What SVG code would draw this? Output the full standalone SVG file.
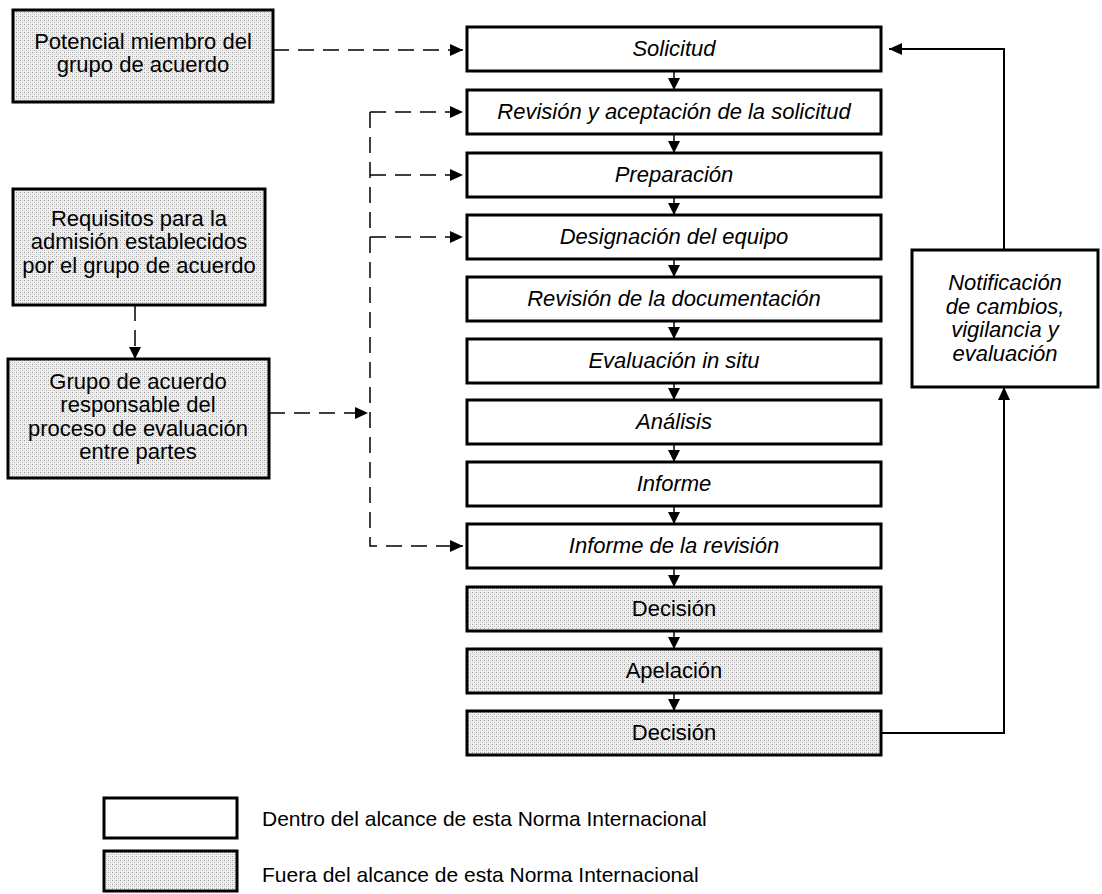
<svg xmlns="http://www.w3.org/2000/svg" width="1102" height="894" viewBox="0 0 1102 894">
<defs>
<style>
.box{fill:#fff;stroke:#000;stroke-width:3}
.gbox{fill:url(#dots);stroke:#000;stroke-width:3}
.t{font-family:"Liberation Sans",Arial,sans-serif;font-size:22px;fill:#000;text-anchor:middle}
.i{font-style:italic}
.lg{font-family:"Liberation Sans",Arial,sans-serif;font-size:21px;fill:#000}
.c{fill:none;stroke:#000;stroke-width:1.5}
.d{fill:none;stroke:#000;stroke-width:1.5;stroke-dasharray:16 9}
.s{fill:none;stroke:#000;stroke-width:2}
</style>
<pattern id="dots" width="4" height="4" patternUnits="userSpaceOnUse">
<rect width="4" height="4" fill="#f0f0f0"/>
<rect x="0" y="0" width="1" height="1" fill="#9c9c9c"/>
<rect x="2" y="2" width="1" height="1" fill="#bcbcbc"/>
<rect x="0" y="2" width="1" height="1" fill="#d4d4d4"/>
<rect x="2" y="0" width="1" height="1" fill="#d4d4d4"/>
</pattern>
<marker id="ah" viewBox="0 0 12 12" markerWidth="12" markerHeight="12" refX="12" refY="6" orient="auto" markerUnits="userSpaceOnUse">
<path d="M0,0 L12,6 L0,12 z" fill="#000"/>
</marker>
<marker id="ad" viewBox="0 0 13 12" markerWidth="13" markerHeight="12" refX="13" refY="6" orient="auto" markerUnits="userSpaceOnUse">
<path d="M0,0 L13,6 L0,12 z" fill="#000"/>
</marker>
</defs>
<rect width="1102" height="894" fill="#fff"/>

<g id="connectors">
<path class="c" d="M674,71 V90" marker-end="url(#ah)"/>
<path class="c" d="M674,134 V153" marker-end="url(#ah)"/>
<path class="c" d="M674,197 V215" marker-end="url(#ah)"/>
<path class="c" d="M674,259 V277" marker-end="url(#ah)"/>
<path class="c" d="M674,321 V339" marker-end="url(#ah)"/>
<path class="c" d="M674,383 V400" marker-end="url(#ah)"/>
<path class="c" d="M674,444 V462" marker-end="url(#ah)"/>
<path class="c" d="M674,506 V524" marker-end="url(#ah)"/>
<path class="c" d="M674,568 V587" marker-end="url(#ah)"/>
<path class="c" d="M674,631 V649" marker-end="url(#ah)"/>
<path class="c" d="M674,693 V711" marker-end="url(#ah)"/>
<path class="d" d="M273,50 H463" marker-end="url(#ad)"/>
<path class="d" d="M135,305 V359" marker-end="url(#ah)"/>
<path class="d" d="M269,413 H368" marker-end="url(#ad)"/>
<path class="d" d="M370,112 H463" marker-end="url(#ad)"/>
<path class="d" d="M370,112 V546 H463" marker-end="url(#ad)"/>
<path class="d" d="M370,175 H463" marker-end="url(#ad)"/>
<path class="d" d="M370,237 H463" marker-end="url(#ad)"/>
<path class="s" d="M881,733 H1004 V387" marker-end="url(#ad)"/>
<path class="s" d="M1004,250 V49 H889" marker-end="url(#ad)"/>
</g>

<g id="n-potencial">
<rect class="gbox" x="13" y="10" width="260" height="92"/>
<text class="t" x="143" y="49">Potencial miembro del</text>
<text class="t" x="143" y="72">grupo de acuerdo</text>
</g>
<g id="n-requisitos">
<rect class="gbox" x="13" y="189" width="252" height="116"/>
<text class="t" x="139" y="226">Requisitos para la</text>
<text class="t" x="139" y="249">admisión establecidos</text>
<text class="t" x="139" y="273">por el grupo de acuerdo</text>
</g>
<g id="n-grupo">
<rect class="gbox" x="8" y="359" width="261" height="119"/>
<text class="t" x="138" y="389">Grupo de acuerdo</text>
<text class="t" x="138" y="412">responsable del</text>
<text class="t" x="138" y="436">proceso de evaluación</text>
<text class="t" x="138" y="459">entre partes</text>
</g>

<g id="n-solicitud"><rect class="box" x="467" y="27" width="414" height="44"/><text class="t i" x="674" y="56">Solicitud</text></g>
<g id="n-revision"><rect class="box" x="467" y="90" width="414" height="44"/><text class="t i" x="674" y="119">Revisión y aceptación de la solicitud</text></g>
<g id="n-preparacion"><rect class="box" x="467" y="153" width="414" height="44"/><text class="t i" x="674" y="182">Preparación</text></g>
<g id="n-designacion"><rect class="box" x="467" y="215" width="414" height="44"/><text class="t i" x="674" y="244">Designación del equipo</text></g>
<g id="n-documentacion"><rect class="box" x="467" y="277" width="414" height="44"/><text class="t i" x="674" y="306">Revisión de la documentación</text></g>
<g id="n-evaluacion"><rect class="box" x="467" y="339" width="414" height="44"/><text class="t i" x="674" y="368">Evaluación in situ</text></g>
<g id="n-analisis"><rect class="box" x="467" y="400" width="414" height="44"/><text class="t i" x="674" y="429">Análisis</text></g>
<g id="n-informe"><rect class="box" x="467" y="462" width="414" height="44"/><text class="t i" x="674" y="491">Informe</text></g>
<g id="n-informe-revision"><rect class="box" x="467" y="524" width="414" height="44"/><text class="t i" x="674" y="553">Informe de la revisión</text></g>
<g id="n-decision1"><rect class="gbox" x="467" y="587" width="414" height="44"/><text class="t" x="674" y="616">Decisión</text></g>
<g id="n-apelacion"><rect class="gbox" x="467" y="649" width="414" height="44"/><text class="t" x="674" y="678">Apelación</text></g>
<g id="n-decision2"><rect class="gbox" x="467" y="711" width="414" height="44"/><text class="t" x="674" y="740">Decisión</text></g>

<g id="n-notificacion">
<rect class="box" x="912" y="250" width="186" height="137"/>
<text class="t i" x="1005" y="290">Notificación</text>
<text class="t i" x="1005" y="314">de cambios,</text>
<text class="t i" x="1005" y="337">vigilancia y</text>
<text class="t i" x="1005" y="361">evaluación</text>
</g>

<g id="legend">
<rect class="box" x="104" y="798" width="133" height="40"/>
<text class="lg" x="262" y="826">Dentro del alcance de esta Norma Internacional</text>
<rect class="gbox" x="104" y="851" width="133" height="40"/>
<text class="lg" x="262" y="882">Fuera del alcance de esta Norma Internacional</text>
</g>
</svg>
